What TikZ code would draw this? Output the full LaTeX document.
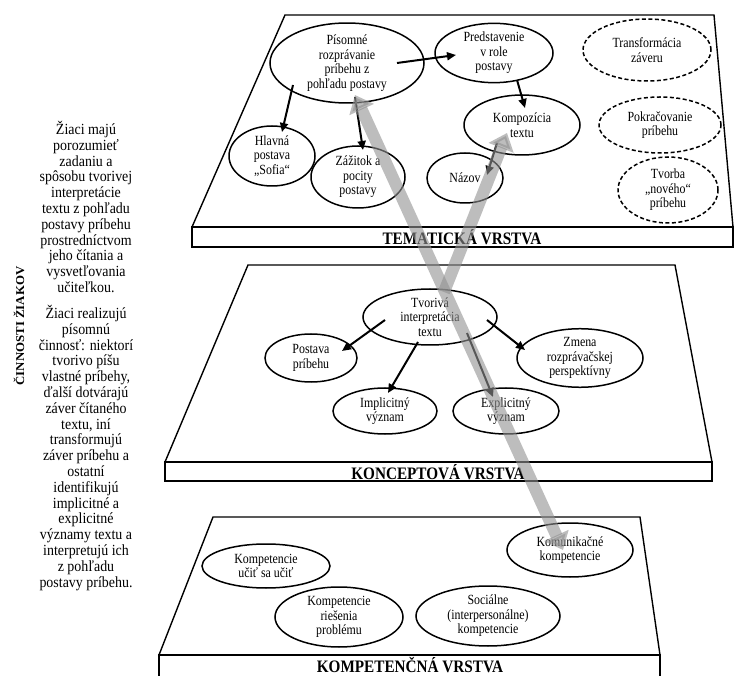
\documentclass[tikz,border=0pt]{standalone}
\usepackage{fontspec}
\setmainfont{Liberation Serif}
\newfontfamily\ellfont[FakeStretch=0.85]{Liberation Serif}
\newfontfamily\lblfont[FakeStretch=0.87]{Liberation Serif}
\newfontfamily\sidefont[FakeStretch=0.9]{Liberation Serif}
\newfontfamily\vertfont[FakeStretch=1.07]{Liberation Serif}
\usetikzlibrary{shapes.geometric,arrows.meta,calc}
\definecolor{bandgray}{gray}{0.57}
\begin{document}
\begin{tikzpicture}[x=1pt,y=-1pt,
  lay/.style={draw=black, line width=1.4pt, fill=white, line join=miter},
  ell/.style={ellipse, draw=black, line width=1.5pt, inner sep=0pt, align=center, font=\ellfont\fontsize{14}{14.6}\selectfont},
  dell/.style={ell, dash pattern=on 4pt off 2.5pt},
  arr/.style={line width=2pt, -{Triangle[length=9pt,width=8pt]}},
  band/.style={draw=bandgray, line width=12pt, opacity=0.6},
  lbl/.style={font=\lblfont\fontsize{17.5}{17.5}\bfseries\selectfont, inner sep=0pt},
  side/.style={align=center, inner sep=0pt, font=\sidefont\fontsize{15.5}{15.8}\selectfont}
]
\useasboundingbox (0,0) rectangle (734,676);

% ---- layers ----
\draw[lay] (285,15) -- (714,15) -- (733,227) -- (192,227) -- cycle;
\draw[lay] (192,227) rectangle (733,247);
\node[lbl] (lt) at (462,237.5) {TEMATICKÁ VRSTVA};

\draw[lay] (248,265) -- (675,265) -- (712,462) -- (165,462) -- cycle;
\draw[lay] (165,462) rectangle (712,481);
\node[lbl] (lk) at (438,472) {KONCEPTOVÁ VRSTVA};

\draw[lay] (213,517) -- (640,517) -- (660,655) -- (159,655) -- cycle;
\draw[lay] (159,655) rectangle (660,682);
\node[lbl] (lc) at (410,665.5) {KOMPETENČNÁ VRSTVA};

% ---- left column ----
\node[side, anchor=north] (p1) at (86,121) {Žiaci majú\\porozumieť\\zadaniu a\\spôsobu tvorivej\\interpretácie\\textu z pohľadu\\postavy príbehu\\prostredníctvom\\jeho čítania a\\vysvetľovania\\učiteľkou.};
\node[side, anchor=north] (p2) at (86,305) {Žiaci realizujú\\písomnú\\činnosť: niektorí\\tvorivo píšu\\vlastné príbehy,\\ďalší dotvárajú\\záver čítaného\\textu, iní\\transformujú\\záver príbehu a\\ostatní\\identifikujú\\implicitné a\\explicitné\\významy textu a\\interpretujú ich\\z pohľadu\\postavy príbehu.};
\node[rotate=90, inner sep=0pt, font=\vertfont\fontsize{12}{12}\bfseries\selectfont] (cz) at (19,326) {ČINNOSTI ŽIAKOV};

% ---- top layer ellipses ----
\node[ell, minimum width=154pt, minimum height=78pt] (pis) at (347,63) {Písomné\\rozprávanie\\príbehu z\\pohľadu postavy};
\node[ell, minimum width=118pt, minimum height=56pt] (pred) at (494,53) {Predstavenie\\v role\\postavy};
\node[dell, minimum width=128pt, minimum height=62pt] (trans) at (647,50) {Transformácia\\záveru};
\node[ell, minimum width=116pt, minimum height=60pt] (komp) at (522,125) {Kompozícia\\textu};
\node[dell, minimum width=122pt, minimum height=56pt] (pokr) at (660,125) {Pokračovanie\\príbehu};
\node[ell, minimum width=86pt, minimum height=60pt] (hlav) at (272,156) {Hlavná\\postava\\„Sofia“};
\node[ell, minimum width=94pt, minimum height=62pt] (zaz) at (358,177) {Zážitok a\\pocity\\postavy};
\node[ell, minimum width=76pt, minimum height=50pt] (naz) at (465,178) {Názov};
\node[dell, minimum width=100pt, minimum height=66pt] (tvorba) at (668,190) {Tvorba\\„nového“\\príbehu};

% ---- middle layer ellipses ----
\node[ell, minimum width=134pt, minimum height=56pt] (tvo) at (430,317) {Tvorivá\\interpretácia\\textu};
\node[ell, minimum width=92pt, minimum height=48pt] (post) at (311,358) {Postava\\príbehu};
\node[ell, minimum width=104pt, minimum height=46pt] (impl) at (385,411) {Implicitný\\význam};
\node[ell, minimum width=106pt, minimum height=46pt] (expl) at (506,411) {Explicitný\\význam};
\node[ell, minimum width=126pt, minimum height=58pt] (zmena) at (580,358) {Zmena\\rozprávačskej\\perspektívny};

% ---- bottom layer ellipses ----
\node[ell, minimum width=128pt, minimum height=44pt] (ucit) at (266,566) {Kompetencie\\učiť sa učiť};
\node[ell, minimum width=128pt, minimum height=60pt] (ries) at (339,617) {Kompetencie\\riešenia\\problému};
\node[ell, minimum width=144pt, minimum height=60pt] (soc) at (488,616) {Sociálne\\(interpersonálne)\\kompetencie};
\node[ell, minimum width=126pt, minimum height=54pt] (kom) at (570,550) {Komunikačné\\kompetencie};

% ---- black arrows ----
\draw[arr] ($(pis)+(50,0)$) -- ($(pred)+(-38,2)$);
\draw[arr] ($(pis)+(-54,22)$) -- ($(hlav)+(10,-24)$);
\draw[arr] ($(pis)+(8,34)$) -- ($(zaz)+(5,-27)$);
\draw[arr] ($(pred)+(23,27)$) -- ($(komp)+(3,-17)$);
\draw[arr] ($(komp)+(-25,18)$) -- ($(naz)+(22,-3)$);

\draw[arr] ($(tvo)+(-45,3)$) -- ($(post)+(31,-7)$);
\draw[arr] ($(tvo)+(-12,25)$) -- ($(impl)+(3,-18)$);
\draw[arr] ($(tvo)+(37,16)$) -- ($(expl)+(-13,-14)$);
\draw[arr] ($(tvo)+(57,3)$) -- ($(zmena)+(-55,-8)$);

% ---- gray links ----
\coordinate (hub) at ($(tvo)+(14,-25)$);
\draw[band, {Triangle[length=16pt,width=26pt]}-{Triangle[length=16pt,width=26pt]}] ($(pis)+(8,32)$) -- ($(kom)+(-7,0)$);
\draw[band, -{Triangle[length=16pt,width=26pt]}] (hub) -- ($(komp)+(-15,8)$);
\end{tikzpicture}
\end{document}
